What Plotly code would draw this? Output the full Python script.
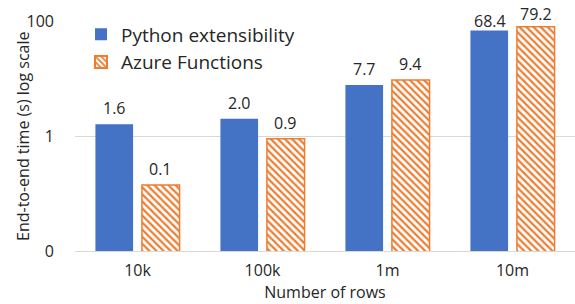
import plotly.graph_objects as go
import math

categories = ["10k", "100k", "1m", "10m"]
python_ext = [1.6, 2.0, 7.7, 68.4]
azure_fn = [0.14, 0.9, 9.4, 79.2]
ytick_vals = [0.01, 1, 100]
ytick_text = ["0", "1", "100"]

FONT = "Open Sans"
TXT = "#262626"
BLUE = "#4472C4"
ORANGE = "#ED7D31"

fig = go.Figure()
fig.add_trace(go.Bar(
    x=categories, y=python_ext, name="Python extensibility",
    marker=dict(color=BLUE, line=dict(width=0)),
))
fig.add_trace(go.Bar(
    x=categories, y=azure_fn, name="Azure Functions",
    marker=dict(color="white", line=dict(color=ORANGE, width=1.5),
                pattern=dict(shape="\\", fgcolor=ORANGE, bgcolor="white",
                             size=5, solidity=0.45, fillmode="replace")),
))

# value labels above bars (labels near the top of the chart are squeezed down)
for vals, shift in ((python_ext, -23), (azure_fn, 23)):
    for c, v in zip(categories, vals):
        lift = 3
        if v > 50:
            lift = -4 if shift < 0 else 0
        fig.add_annotation(
            x=c, y=math.log10(v), xref="x", yref="y",
            text=f"{v:.1f}", showarrow=False,
            xshift=shift, yanchor="bottom", yshift=lift,
            font=dict(family=FONT, size=16, color=TXT),
        )

# y-axis title
fig.add_annotation(
    x=-0.104, y=0.5, xref="paper", yref="paper",
    text="End-to-end time (s) log scale", textangle=-90, showarrow=False,
    xanchor="center", yanchor="middle",
    font=dict(family=FONT, size=16, color=TXT),
)

fig.update_layout(
    width=575, height=304,
    margin=dict(l=75, r=0, t=21, b=53, autoexpand=False),
    paper_bgcolor="white", plot_bgcolor="white",
    barmode="group", bargap=0.256, bargroupgap=0.19,
    font=dict(family=FONT, size=16, color=TXT),
    showlegend=True,
    legend=dict(x=0.012, y=1.024, xanchor="left", yanchor="top",
                bgcolor="rgba(0,0,0,0)", font=dict(size=19, color=TXT),
                itemsizing="constant", tracegroupgap=0, itemwidth=30),
)
fig.update_xaxes(
    showline=True, linecolor="#D9D9D9", linewidth=1, automargin=False,
    ticks="", tickfont=dict(size=16, color=TXT), ticklabelstandoff=5,
    title=dict(text="Number of rows", font=dict(size=16, color=TXT), standoff=1),
)
fig.update_yaxes(
    type="log", range=[-2, 2], automargin=False,
    tickvals=ytick_vals, ticktext=ytick_text,
    showgrid=True, gridcolor="#D9D9D9", gridwidth=1,
    zeroline=False, ticks="", ticklabelstandoff=20,
    tickfont=dict(size=16, color=TXT),
)

fig.write_html("out.html", config={"displayModeBar": False},
               post_script="document.body.style.margin='0';")
